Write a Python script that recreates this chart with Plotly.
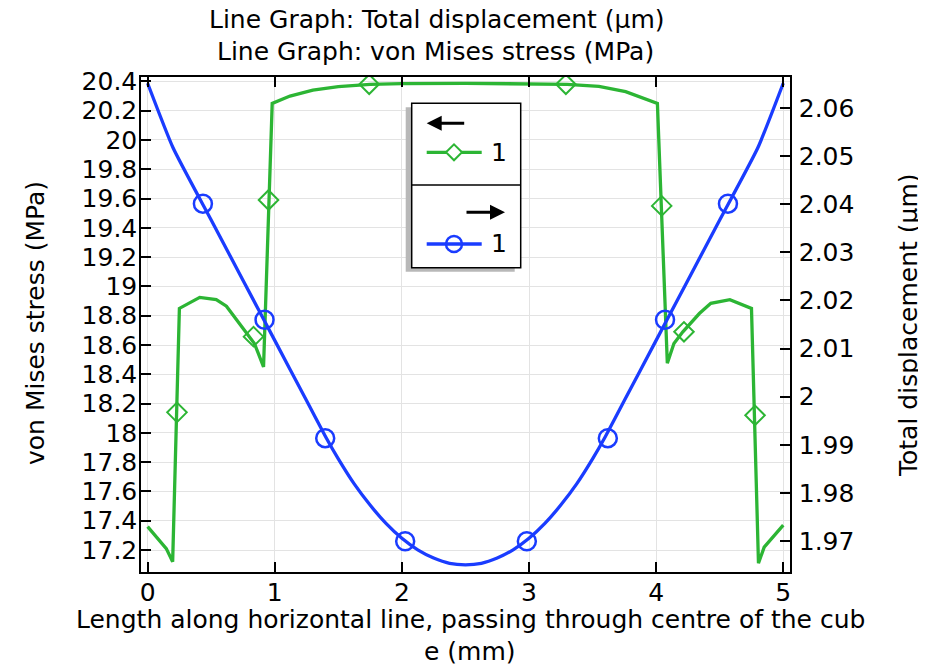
import plotly.graph_objects as go

# ---------------- data ----------------
# von Mises stress (MPa), left axis
stress_x = [0.0, 0.147, 0.197, 0.25, 0.41, 0.54, 0.62, 0.78, 0.84, 0.87, 0.912,
            0.98, 1.12, 1.3, 1.5, 1.75, 2.0, 2.5, 3.0, 3.3, 3.55, 3.76, 4.01,
            4.088, 4.14, 4.21, 4.34, 4.43, 4.58, 4.75, 4.805, 4.85, 5.0]
stress_y = [17.36, 17.21, 17.12, 18.85, 18.925, 18.91, 18.865, 18.68, 18.61, 18.545, 18.45,
            20.25, 20.30, 20.34, 20.365, 20.38, 20.385, 20.387, 20.385, 20.38, 20.366, 20.33, 20.25,
            18.475, 18.61, 18.69, 18.815, 18.885, 18.91, 18.85, 17.11, 17.22, 17.37]
stress_mx = [0.231, 0.833, 0.951, 1.743, 3.29, 4.044, 4.219, 4.778]
stress_my = [18.14, 18.657, 19.59, 20.38, 20.38, 19.55, 18.69, 18.12]

# Total displacement (um), right axis
disp_x = [0.0, 0.2, 0.5, 0.75, 1.0, 1.25, 1.4, 1.5, 1.625, 1.75, 1.875, 2.0, 2.125,
          2.25, 2.375, 2.5, 2.625, 2.75, 2.875, 3.0, 3.125, 3.25, 3.375, 3.5, 3.6,
          3.75, 4.0, 4.25, 4.5, 4.8, 5.0]
disp_y = [2.0651, 2.0517, 2.0367, 2.0242, 2.0117, 1.9992, 1.9917, 1.9871, 1.9819,
          1.9775, 1.9737, 1.9706, 1.9682, 1.9665, 1.9654, 1.9651, 1.9654, 1.9665,
          1.9682, 1.9706, 1.9737, 1.9775, 1.9819, 1.9871, 1.9917, 1.9992, 2.0117,
          2.0242, 2.0367, 2.0517, 2.0651]
disp_mx = [0.435, 0.92, 1.397, 2.026, 2.983, 3.62, 4.07, 4.565]
disp_my = [2.0401, 2.0160, 1.9914, 1.9700, 1.9700, 1.9914, 2.0160, 2.0401]

x_ticks = [0, 1, 2, 3, 4, 5]

GREEN = "#2cb534"
BLUE = "#1a3cff"
FONT = "DejaVu Sans"
FS = 25

# ---------------- layout geometry ----------------
# the page body has an 8px margin, so the figure is 8px smaller and all
# reference pixel positions are shifted by 8px
OFF = 8
W, H = 926 - OFF, 667 - OFF
L, R, T, B = 141 - OFF, 136, 77 - OFF, 95
PW, PH = W - L - R, H - T - B


def px(x):
    return (x - OFF - L) / PW


def py(y):
    return (H - B - (y - OFF)) / PH


fig = go.Figure()
fig.add_trace(go.Scatter(x=stress_x, y=stress_y, mode="lines",
                         line=dict(color=GREEN, width=3.3), yaxis="y", showlegend=False,
                         hoverinfo="skip"))
fig.add_trace(go.Scatter(x=stress_mx, y=stress_my, mode="markers",
                         marker=dict(symbol="diamond-open", size=15, color=GREEN,
                                     line=dict(width=2, color=GREEN)),
                         yaxis="y", showlegend=False))
fig.add_trace(go.Scatter(x=disp_x, y=disp_y, mode="lines",
                         line=dict(color=BLUE, width=3.3, shape="spline", smoothing=0.5),
                         yaxis="y2", showlegend=False, hoverinfo="skip"))
fig.add_trace(go.Scatter(x=disp_mx, y=disp_my, mode="markers",
                         marker=dict(symbol="circle-open", size=18, color=BLUE,
                                     line=dict(width=2.5, color=BLUE)),
                         yaxis="y2", showlegend=False))

tickfont = dict(family=FONT, size=FS, color="black")

fig.update_layout(
    width=W, height=H,
    margin=dict(l=L, r=R, t=T, b=B, pad=0),
    paper_bgcolor="white", plot_bgcolor="white",
    font=dict(family=FONT, size=FS, color="black"),
    xaxis=dict(range=[-0.052, 5.053], tickvals=x_ticks, ticks="inside", ticklen=10,
               tickwidth=1.5, tickcolor="black", showline=True, linecolor="black",
               linewidth=1.5, mirror="ticks", showgrid=True, gridcolor="#e3e3e3",
               gridwidth=1, zeroline=False, tickfont=tickfont, ticklabelstandoff=-3),
    yaxis=dict(range=[17.05, 20.43], dtick=0.2, tick0=17.2, ticks="inside", ticklen=10,
               tickwidth=1.5, tickcolor="black", showline=True, linecolor="black",
               linewidth=1.5, showgrid=True, gridcolor="#e3e3e3", gridwidth=1,
               zeroline=False, tickfont=tickfont, ticklabelstandoff=-3),
    yaxis2=dict(range=[1.9636, 2.0664], dtick=0.01, tick0=1.97, overlaying="y",
                side="right", ticks="inside", ticklen=10, tickwidth=1.5,
                tickcolor="black", showline=True, linecolor="black", linewidth=1.5,
                showgrid=False, zeroline=False, tickfont=tickfont, ticklabelstandoff=2),
    showlegend=False,
)


def text(t, x, y, angle=0, size=FS):
    return dict(text=t, x=px(x), y=py(y), xref="paper", yref="paper", showarrow=False,
                xanchor="center", yanchor="middle", textangle=angle,
                font=dict(size=size, family=FONT, color="black"))


ann = []
ann.append(text("Line Graph: Total displacement (µm)", 437, 20))
ann.append(text("Line Graph: von Mises stress (MPa)", 435, 51))
ann.append(text("Length along horizontal line, passing through centre of the cub", 470, 619))
ann.append(text("e (mm)", 470, 651))
ann.append(text("von Mises stress (MPa)", 35, 323, angle=-90))
ann.append(text("Total displacement (µm)", 908, 325, angle=-90))

# legend box
bx0, bx1, by0, by1, bmid = 411.7, 520.7, 103.3, 267.7, 185.0
shapes = []
shapes.append(dict(type="rect", xref="paper", yref="paper",
                   x0=px(bx0 - 6), x1=px(bx1 - 6), y0=py(by0 + 4), y1=py(by1 + 4),
                   fillcolor="#b8b8b8", line=dict(width=0), layer="above"))
shapes.append(dict(type="rect", xref="paper", yref="paper",
                   x0=px(bx0), x1=px(bx1), y0=py(by0), y1=py(by1),
                   fillcolor="white", line=dict(color="black", width=1.5), layer="above"))
shapes.append(dict(type="line", xref="paper", yref="paper",
                   x0=px(bx0), x1=px(bx1), y0=py(bmid), y1=py(bmid),
                   line=dict(color="black", width=1.5), layer="above"))
# green sample
shapes.append(dict(type="line", xref="paper", yref="paper",
                   x0=px(426.7), x1=px(481.7), y0=py(152.3), y1=py(152.3),
                   line=dict(color=GREEN, width=3.3), layer="above"))
cx, cy, r = 454, 152.3, 8
shapes.append(dict(type="path", xref="paper", yref="paper",
                   path=f"M {px(cx - r)} {py(cy)} L {px(cx)} {py(cy - r)} L {px(cx + r)} {py(cy)} "
                        f"L {px(cx)} {py(cy + r)} Z",
                   fillcolor="white", line=dict(color=GREEN, width=2), layer="above"))
# blue sample
shapes.append(dict(type="line", xref="paper", yref="paper",
                   x0=px(426.7), x1=px(481.7), y0=py(244), y1=py(244),
                   line=dict(color=BLUE, width=3.3), layer="above"))
cx, cy, r = 454, 244, 8
shapes.append(dict(type="circle", xref="paper", yref="paper",
                   x0=px(cx - r), x1=px(cx + r), y0=py(cy + r), y1=py(cy - r),
                   fillcolor="rgba(0,0,0,0)", line=dict(color=BLUE, width=2.5), layer="above"))

ann.append(text("1", 499, 152.3))
ann.append(text("1", 499, 244))
# arrows
ann.append(dict(text="", x=px(426.7), y=py(123.3), xref="paper", yref="paper",
                showarrow=True, ax=39, ay=0, arrowhead=2, arrowsize=1, arrowwidth=3,
                arrowcolor="black"))
ann.append(dict(text="", x=px(505), y=py(212.3), xref="paper", yref="paper",
                showarrow=True, ax=-40, ay=0, arrowhead=2, arrowsize=1, arrowwidth=3,
                arrowcolor="black"))

fig.update_layout(annotations=ann, shapes=shapes)
fig.write_html("out.html")
